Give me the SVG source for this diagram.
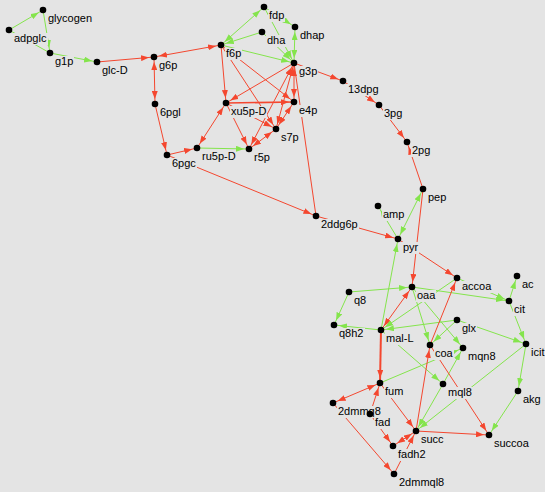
<svg xmlns="http://www.w3.org/2000/svg" width="545" height="492" viewBox="0 0 545 492">
<style>
.bg{fill:#e4e4e4}
line{fill:none;stroke-width:1}
.r{stroke:#f4472f;marker-end:url(#mr)}
.g{stroke:#84e44c;marker-end:url(#mg)}
.r.b{marker-start:url(#mr)}
.g.b{marker-start:url(#mg)}
.n{marker-end:none}
.w{stroke-width:2}
.lb{fill:#e4e4e4}
text{font-family:"Liberation Sans",Arial,Helvetica,sans-serif;font-size:11px;fill:#000}
circle{fill:#000}
</style>
<defs>
<marker id="mr" viewBox="0 0 8 6" refX="13" refY="3" markerWidth="8" markerHeight="6" markerUnits="userSpaceOnUse" orient="auto-start-reverse"><path d="M0,0L8,3L0,6z" fill="#f4472f"/></marker>
<marker id="mg" viewBox="0 0 8 6" refX="13" refY="3" markerWidth="8" markerHeight="6" markerUnits="userSpaceOnUse" orient="auto-start-reverse"><path d="M0,0L8,3L0,6z" fill="#84e44c"/></marker>
</defs>
<rect class="bg" x="0" y="0" width="545" height="492"/>
<g id="edges">
<line class="g" x1="9" y1="30" x2="43" y2="10"/>
<line class="g" x1="43" y1="10" x2="50" y2="53"/>
<line class="g n" x1="50" y1="53" x2="9" y2="30"/>
<line class="g" x1="50" y1="53" x2="97" y2="62"/>
<line class="r" x1="97" y1="62" x2="154" y2="57"/>
<line class="r b" x1="221" y1="45" x2="154" y2="57"/>
<line class="r b" x1="155" y1="104" x2="154" y2="57"/>
<line class="r" x1="155" y1="104" x2="167" y2="155"/>
<line class="r" x1="167" y1="155" x2="197" y2="148"/>
<line class="r b" x1="197" y1="148" x2="226" y2="103"/>
<line class="g" x1="197" y1="148" x2="249" y2="149"/>
<line class="r" x1="167" y1="155" x2="316" y2="216"/>
<line class="g b" x1="221" y1="45" x2="264" y2="7"/>
<line class="g" x1="262" y1="32" x2="221" y2="45"/>
<line class="g" x1="221" y1="45" x2="294" y2="63"/>
<line class="g" x1="264" y1="7" x2="295" y2="27"/>
<line class="g b" x1="295" y1="27" x2="294" y2="63"/>
<line class="g" x1="264" y1="7" x2="294" y2="63"/>
<line class="g" x1="262" y1="32" x2="294" y2="63"/>
<line class="r" x1="221" y1="45" x2="226" y2="103"/>
<line class="r" x1="294" y1="63" x2="226" y2="103"/>
<line class="r" x1="226" y1="103" x2="294" y2="102" style="stroke-width:1.6"/>
<line class="r" x1="221" y1="45" x2="294" y2="102"/>
<line class="r" x1="221" y1="45" x2="276" y2="129"/>
<line class="r b" x1="294" y1="63" x2="294" y2="102"/>
<line class="r b" x1="294" y1="63" x2="276" y2="129"/>
<line class="r b" x1="294" y1="63" x2="249" y2="149"/>
<line class="r" x1="226" y1="103" x2="249" y2="149"/>
<line class="r" x1="226" y1="103" x2="276" y2="129"/>
<line class="r b" x1="294" y1="102" x2="276" y2="129"/>
<line class="r b" x1="276" y1="129" x2="249" y2="149"/>
<line class="r n" x1="294" y1="63" x2="316" y2="216"/>
<line class="r" x1="294" y1="63" x2="343" y2="81"/>
<line class="r" x1="343" y1="81" x2="379" y2="105"/>
<line class="r" x1="379" y1="105" x2="407" y2="142"/>
<line class="r" x1="423" y1="189" x2="407" y2="142"/>
<line class="r" x1="423" y1="189" x2="412" y2="287"/>
<line class="r" x1="316" y1="216" x2="398" y2="239"/>
<line class="g b" x1="398" y1="239" x2="423" y2="189"/>
<line class="g" x1="398" y1="239" x2="378" y2="206"/>
<line class="g" x1="381" y1="330" x2="398" y2="239"/>
<line class="r" x1="398" y1="239" x2="457" y2="278"/>
<line class="r b" x1="381" y1="330" x2="412" y2="287"/>
<line class="g" x1="349" y1="292" x2="412" y2="287"/>
<line class="g" x1="349" y1="292" x2="334" y2="325"/>
<line class="g" x1="381" y1="330" x2="334" y2="325"/>
<line class="g" x1="457" y1="320" x2="381" y2="330"/>
<line class="g" x1="457" y1="278" x2="381" y2="330"/>
<line class="r w" x1="381" y1="330" x2="380" y2="383"/>
<line class="g" x1="412" y1="287" x2="509" y2="301"/>
<line class="g" x1="457" y1="278" x2="509" y2="301"/>
<line class="g" x1="509" y1="301" x2="517" y2="276"/>
<line class="g" x1="509" y1="301" x2="526" y2="344"/>
<line class="g" x1="412" y1="287" x2="430" y2="345"/>
<line class="g" x1="457" y1="320" x2="430" y2="345"/>
<line class="g" x1="457" y1="320" x2="526" y2="344"/>
<line class="g" x1="526" y1="344" x2="416" y2="431"/>
<line class="g" x1="526" y1="344" x2="518" y2="391"/>
<line class="g" x1="518" y1="391" x2="489" y2="435"/>
<line class="g" x1="412" y1="287" x2="463" y2="348"/>
<line class="g" x1="381" y1="330" x2="443" y2="384"/>
<line class="g" x1="443" y1="384" x2="463" y2="348"/>
<line class="g" x1="380" y1="383" x2="463" y2="348"/>
<line class="g" x1="443" y1="384" x2="416" y2="431"/>
<line class="r" x1="430" y1="345" x2="457" y2="278"/>
<line class="r" x1="416" y1="431" x2="430" y2="345"/>
<line class="r" x1="430" y1="345" x2="489" y2="435"/>
<line class="r" x1="416" y1="431" x2="489" y2="435"/>
<line class="r" x1="380" y1="383" x2="416" y2="431"/>
<line class="r b" x1="380" y1="383" x2="333" y2="403"/>
<line class="r" x1="370" y1="414" x2="380" y2="383"/>
<line class="r" x1="370" y1="414" x2="393" y2="446"/>
<line class="r b" x1="416" y1="431" x2="393" y2="446"/>
<line class="r" x1="394" y1="474" x2="416" y2="431"/>
<line class="r" x1="333" y1="403" x2="394" y2="474"/>
</g>
<g id="n-glycogen"><rect class="lb" x="47" y="13" width="46" height="12"/><text x="48" y="21.5">glycogen</text><circle cx="43" cy="10" r="3.3"/></g>
<g id="n-adpglc"><rect class="lb" x="13" y="33" width="35" height="12"/><text x="14" y="41.5">adpglc</text><circle cx="9" cy="30" r="3.3"/></g>
<g id="n-g1p"><rect class="lb" x="54" y="56" width="20" height="12"/><text x="55" y="64.5">g1p</text><circle cx="50" cy="53" r="3.3"/></g>
<g id="n-glc-D"><rect class="lb" x="101" y="65" width="28" height="12"/><text x="102" y="73.5">glc-D</text><circle cx="97" cy="62" r="3.3"/></g>
<g id="n-g6p"><rect class="lb" x="158" y="60" width="20" height="12"/><text x="159" y="68.5">g6p</text><circle cx="154" cy="57" r="3.3"/></g>
<g id="n-fdp"><rect class="lb" x="268" y="10" width="17" height="12"/><text x="269" y="18.5">fdp</text><circle cx="264" cy="7" r="3.3"/></g>
<g id="n-dhap"><rect class="lb" x="299" y="30" width="27" height="12"/><text x="300" y="38.5">dhap</text><circle cx="295" cy="27" r="3.3"/></g>
<g id="n-dha"><rect class="lb" x="266" y="35" width="20" height="12"/><text x="267" y="43.5">dha</text><circle cx="262" cy="32" r="3.3"/></g>
<g id="n-f6p"><rect class="lb" x="225" y="48" width="17" height="12"/><text x="226" y="56.5">f6p</text><circle cx="221" cy="45" r="3.3"/></g>
<g id="n-g3p"><rect class="lb" x="298" y="66" width="20" height="12"/><text x="299" y="74.5">g3p</text><circle cx="294" cy="63" r="3.3"/></g>
<g id="n-6pgl"><rect class="lb" x="159" y="107" width="23" height="12"/><text x="160" y="115.5">6pgl</text><circle cx="155" cy="104" r="3.3"/></g>
<g id="n-xu5p-D"><rect class="lb" x="230" y="106" width="37" height="12"/><text x="231" y="114.5">xu5p-D</text><circle cx="226" cy="103" r="3.3"/></g>
<g id="n-e4p"><rect class="lb" x="298" y="105" width="20" height="12"/><text x="299" y="113.5">e4p</text><circle cx="294" cy="102" r="3.3"/></g>
<g id="n-s7p"><rect class="lb" x="280" y="132" width="20" height="12"/><text x="281" y="140.5">s7p</text><circle cx="276" cy="129" r="3.3"/></g>
<g id="n-r5p"><rect class="lb" x="253" y="152" width="18" height="12"/><text x="254" y="160.5">r5p</text><circle cx="249" cy="149" r="3.3"/></g>
<g id="n-ru5p-D"><rect class="lb" x="201" y="151" width="35" height="12"/><text x="202" y="159.5">ru5p-D</text><circle cx="197" cy="148" r="3.3"/></g>
<g id="n-6pgc"><rect class="lb" x="171" y="158" width="26" height="12"/><text x="172" y="166.5">6pgc</text><circle cx="167" cy="155" r="3.3"/></g>
<g id="n-13dpg"><rect class="lb" x="347" y="84" width="33" height="12"/><text x="348" y="92.5">13dpg</text><circle cx="343" cy="81" r="3.3"/></g>
<g id="n-3pg"><rect class="lb" x="383" y="108" width="20" height="12"/><text x="384" y="116.5">3pg</text><circle cx="379" cy="105" r="3.3"/></g>
<g id="n-2pg"><rect class="lb" x="411" y="145" width="20" height="12"/><text x="412" y="153.5">2pg</text><circle cx="407" cy="142" r="3.3"/></g>
<g id="n-pep"><rect class="lb" x="427" y="192" width="20" height="12"/><text x="428" y="200.5">pep</text><circle cx="423" cy="189" r="3.3"/></g>
<g id="n-amp"><rect class="lb" x="382" y="209" width="23" height="12"/><text x="383" y="217.5">amp</text><circle cx="378" cy="206" r="3.3"/></g>
<g id="n-2ddg6p"><rect class="lb" x="320" y="219" width="39" height="12"/><text x="321" y="227.5">2ddg6p</text><circle cx="316" cy="216" r="3.3"/></g>
<g id="n-pyr"><rect class="lb" x="402" y="242" width="17" height="12"/><text x="403" y="250.5">pyr</text><circle cx="398" cy="239" r="3.3"/></g>
<g id="n-oaa"><rect class="lb" x="416" y="290" width="20" height="12"/><text x="417" y="298.5">oaa</text><circle cx="412" cy="287" r="3.3"/></g>
<g id="n-accoa"><rect class="lb" x="461" y="281" width="31" height="12"/><text x="462" y="289.5">accoa</text><circle cx="457" cy="278" r="3.3"/></g>
<g id="n-ac"><rect class="lb" x="521" y="279" width="14" height="12"/><text x="522" y="287.5">ac</text><circle cx="517" cy="276" r="3.3"/></g>
<g id="n-cit"><rect class="lb" x="513" y="304" width="13" height="12"/><text x="514" y="312.5">cit</text><circle cx="509" cy="301" r="3.3"/></g>
<g id="n-q8"><rect class="lb" x="353" y="295" width="14" height="12"/><text x="354" y="303.5">q8</text><circle cx="349" cy="292" r="3.3"/></g>
<g id="n-q8h2"><rect class="lb" x="338" y="328" width="27" height="12"/><text x="339" y="336.5">q8h2</text><circle cx="334" cy="325" r="3.3"/></g>
<g id="n-mal-L"><rect class="lb" x="385" y="333" width="30" height="12"/><text x="386" y="341.5">mal-L</text><circle cx="381" cy="330" r="3.3"/></g>
<g id="n-glx"><rect class="lb" x="461" y="323" width="16" height="12"/><text x="462" y="331.5">glx</text><circle cx="457" cy="320" r="3.3"/></g>
<g id="n-coa"><rect class="lb" x="434" y="348" width="20" height="12"/><text x="435" y="356.5">coa</text><circle cx="430" cy="345" r="3.3"/></g>
<g id="n-mqn8"><rect class="lb" x="467" y="351" width="30" height="12"/><text x="468" y="359.5">mqn8</text><circle cx="463" cy="348" r="3.3"/></g>
<g id="n-icit"><rect class="lb" x="530" y="347" width="15" height="12"/><text x="531" y="355.5">icit</text><circle cx="526" cy="344" r="3.3"/></g>
<g id="n-fum"><rect class="lb" x="384" y="386" width="20" height="12"/><text x="385" y="394.5">fum</text><circle cx="380" cy="383" r="3.3"/></g>
<g id="n-mql8"><rect class="lb" x="447" y="387" width="26" height="12"/><text x="448" y="395.5">mql8</text><circle cx="443" cy="384" r="3.3"/></g>
<g id="n-akg"><rect class="lb" x="522" y="394" width="20" height="12"/><text x="523" y="402.5">akg</text><circle cx="518" cy="391" r="3.3"/></g>
<g id="n-2dmmq8"><rect class="lb" x="337" y="406" width="45" height="12"/><text x="338" y="414.5">2dmmq8</text><circle cx="333" cy="403" r="3.3"/></g>
<g id="n-fad"><rect class="lb" x="374" y="417" width="17" height="12"/><text x="375" y="425.5">fad</text><circle cx="370" cy="414" r="3.3"/></g>
<g id="n-succ"><rect class="lb" x="420" y="434" width="25" height="12"/><text x="421" y="442.5">succ</text><circle cx="416" cy="431" r="3.3"/></g>
<g id="n-succoa"><rect class="lb" x="493" y="438" width="42" height="12"/><text x="494" y="446.5">succoa</text><circle cx="489" cy="435" r="3.3"/></g>
<g id="n-fadh2"><rect class="lb" x="397" y="449" width="30" height="12"/><text x="398" y="457.5">fadh2</text><circle cx="393" cy="446" r="3.3"/></g>
<g id="n-2dmmql8"><rect class="lb" x="398" y="477" width="47" height="12"/><text x="399" y="485.5">2dmmql8</text><circle cx="394" cy="474" r="3.3"/></g>
</svg>
